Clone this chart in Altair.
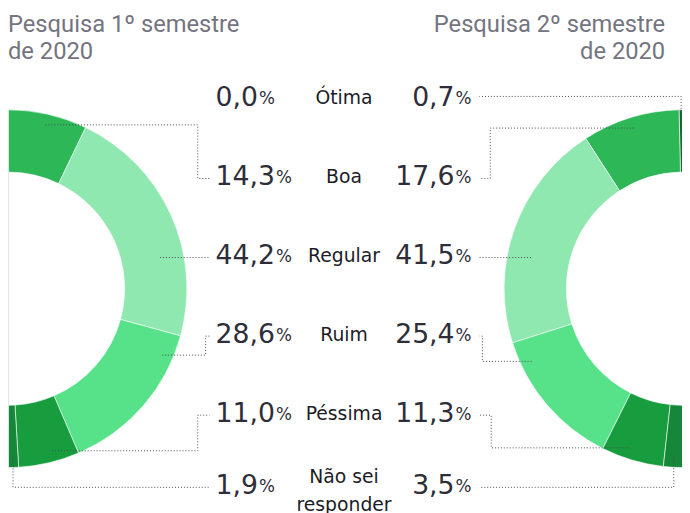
import math
import altair as alt
import pandas as pd

# ---------------- data ----------------
categories = ["Ótima", "Boa", "Regular", "Ruim", "Péssima", "Não sei\nresponder"]
pesquisa_1 = [0.0, 14.3, 44.2, 28.6, 11.0, 1.9]
pesquisa_2 = [0.7, 17.6, 41.5, 25.4, 11.3, 3.5]
title_1 = "Pesquisa 1º semestre\nde 2020"
title_2 = "Pesquisa 2º semestre\nde 2020"

# ---------------- style / layout ----------------
colors = ["#15692f", "#2db757", "#8ee8af", "#57e28a", "#189d3e", "#168638"]
W, H = 682, 505
CY = 281
CX_L, CX_R = 0, 683
R_OUT, R_IN = 181, 118
R_STRAIGHT, R_ANCHOR = 157, 170
row_y = [88.5, 168.5, 248.5, 328, 408, 481]
NUM_L_X, NUM_R_X, CAT_X = 210, 469, 340
LINE_END_L, LINE_END_R = 204, 477
elbow_L = {1: 192, 3: 200, 4: 192}
elbow_R = {1: 488, 3: 480, 4: 489}
NUM_FS, PCT_FS, CAT_LH = 27, 17, 28
TXT = "#2e2e38"

xs = alt.Scale(domain=[0, W], range=[0, W], nice=False, zero=False)
ys = alt.Scale(domain=[0, H], range=[0, H], nice=False, zero=False)

def fmt(v):
    return f"{v:.1f}".replace(".", ",")

def text_width(s, fs):
    w = 0.0
    for ch in s:
        w += 0.318 if ch == "," else 0.636
    return w * fs

# arcs
arc_df = pd.DataFrame({"cat": categories, "idx": range(len(categories)),
                       "v1": pesquisa_1, "v2": pesquisa_2})
color_enc = alt.Color("cat:N", scale=alt.Scale(domain=categories, range=colors), legend=None)

arc_left = alt.Chart(arc_df).mark_arc(
    outerRadius=R_OUT, innerRadius=R_IN, stroke="#ffffff", strokeWidth=0.6
).encode(
    theta=alt.Theta("v1:Q", stack=True, scale=alt.Scale(domain=[0, 100], range=[0, math.pi])),
    color=color_enc,
    order=alt.Order("idx:Q", sort="ascending"),
    x=alt.value(CX_L), y=alt.value(CY),
)
arc_right = alt.Chart(arc_df).mark_arc(
    outerRadius=R_OUT, innerRadius=R_IN, stroke="#ffffff", strokeWidth=0.6
).encode(
    theta=alt.Theta("v2:Q", stack=True, scale=alt.Scale(domain=[0, 100], range=[2 * math.pi, math.pi])),
    color=color_enc,
    order=alt.Order("idx:Q", sort="ascending"),
    x=alt.value(CX_R), y=alt.value(CY),
)

edge = alt.Chart(pd.DataFrame({"a": [0]})).mark_rule(color="#dbe8e8", strokeWidth=1).encode(
    x=alt.value(0.5), y=alt.value(CY - R_OUT), y2=alt.value(CY + R_OUT)
)

# labels
rows = []
for i, c in enumerate(categories):
    n1, n2 = fmt(pesquisa_1[i]), fmt(pesquisa_2[i])
    nlines = c.count("\n") + 1
    rows.append({
        "cat": c, "y": row_y[i],
        "y_c": row_y[i] - (nlines - 1) * (CAT_LH / 2 - 5),
        "n1": n1, "x_n1": NUM_L_X, "x_p1": NUM_L_X + text_width(n1, NUM_FS) + 1,
        "n2": n2, "x_n2": NUM_R_X - 0.95 * PCT_FS - 1, "x_p2": NUM_R_X,
        "pct": "%", "x_c": CAT_X,
    })
lab = pd.DataFrame(rows)

def txt(xf, tf, align, fs, color, font, yf="y", **kw):
    return alt.Chart(lab).mark_text(align=align, baseline="middle", fontSize=fs,
                                    font=font, color=color, **kw).encode(
        x=alt.X(f"{xf}:Q", scale=xs, axis=None),
        y=alt.Y(f"{yf}:Q", scale=ys, axis=None),
        text=alt.Text(f"{tf}:N"),
    )

num_l = txt("x_n1", "n1", "left", NUM_FS, TXT, "DejaVu Sans")
pct_l = txt("x_p1", "pct", "left", PCT_FS, TXT, "DejaVu Sans", dy=1)
num_r = txt("x_n2", "n2", "right", NUM_FS, TXT, "DejaVu Sans")
pct_r = txt("x_p2", "pct", "right", PCT_FS, TXT, "DejaVu Sans", dy=1)
cat_t = txt("x_c", "cat", "center", 19, "#1c1c26", "DejaVu Sans", yf="y_c",
            lineBreak="\n", lineHeight=CAT_LH)

# titles
tdf = pd.DataFrame({"t": [title_1, title_2], "x": [0, 665], "y": [21, 21], "al": ["l", "r"]})
def title(side, align):
    return alt.Chart(tdf[tdf.al == side]).mark_text(
        align=align, baseline="alphabetic", fontSize=24, font="Roboto", color="#747480",
        lineBreak="\n", lineHeight=28
    ).encode(x=alt.X("x:Q", scale=xs, axis=None), y=alt.Y("y:Q", scale=ys, axis=None), text="t:N")
title_l = title("l", "left")
title_r = title("r", "right")

# leader lines derived from slice angles
def leaders(values, cx, sign, label_x, elbows, side):
    out = []
    cum = 0.0
    for i, v in enumerate(values):
        start, end = cum * 1.8, (cum + v) * 1.8
        cum += v
        if v <= 0:
            continue
        mid = (start + end) / 2
        yr = row_y[i] + 1
        c = (CY - yr) / R_STRAIGHT
        a_row = math.degrees(math.acos(max(-1.0, min(1.0, c))))
        if start + 3 <= a_row <= end - 3 and abs(c) <= 1:
            ax = cx + sign * R_STRAIGHT * math.sin(math.radians(a_row))
            pts = [(ax, yr), (label_x, yr)]
        elif mid < 5 or mid > 175:
            ax = cx + sign * R_ANCHOR * math.sin(math.radians(mid))
            ay = CY - R_ANCHOR * math.cos(math.radians(mid))
            yv = yr - 3 if mid < 5 else yr
            pts = [(ax, ay), (ax, yv), (label_x, yv)]
        else:
            if a_row > end:
                a = mid
            else:
                m = min(8, (end - start) / 2)
                a = min(max(a_row, start + m), end - m)
            ax = cx + sign * R_ANCHOR * math.sin(math.radians(a))
            ay = CY - R_ANCHOR * math.cos(math.radians(a))
            ex = elbows.get(i, label_x - sign * 8)
            pts = [(ax, ay), (ex, ay), (ex, yr), (label_x, yr)]
        for k, (px, py) in enumerate(pts):
            out.append({"lid": f"{side}{i}", "k": k, "x": px, "y": py})
    return out

lines_df = pd.DataFrame(
    leaders(pesquisa_1, CX_L, 1, LINE_END_L, elbow_L, "L")
    + leaders(pesquisa_2, CX_R, -1, LINE_END_R, elbow_R, "R")
)
lines = alt.Chart(lines_df).mark_line(color="#4a4a52", strokeWidth=1, strokeDash=[1, 2]).encode(
    x=alt.X("x:Q", scale=xs, axis=None),
    y=alt.Y("y:Q", scale=ys, axis=None),
    detail="lid:N",
    order="k:Q",
)

chart = alt.layer(
    arc_left, arc_right, edge, lines, num_l, pct_l, num_r, pct_r, cat_t, title_l, title_r
).resolve_scale(theta="independent").properties(
    width=W, height=H, padding=0, autosize=alt.AutoSizeParams(type="none"),
    background="#ffffff"
).configure_view(stroke=None)

chart.save("out.html", embed_options={"renderer": "svg", "actions": False})
